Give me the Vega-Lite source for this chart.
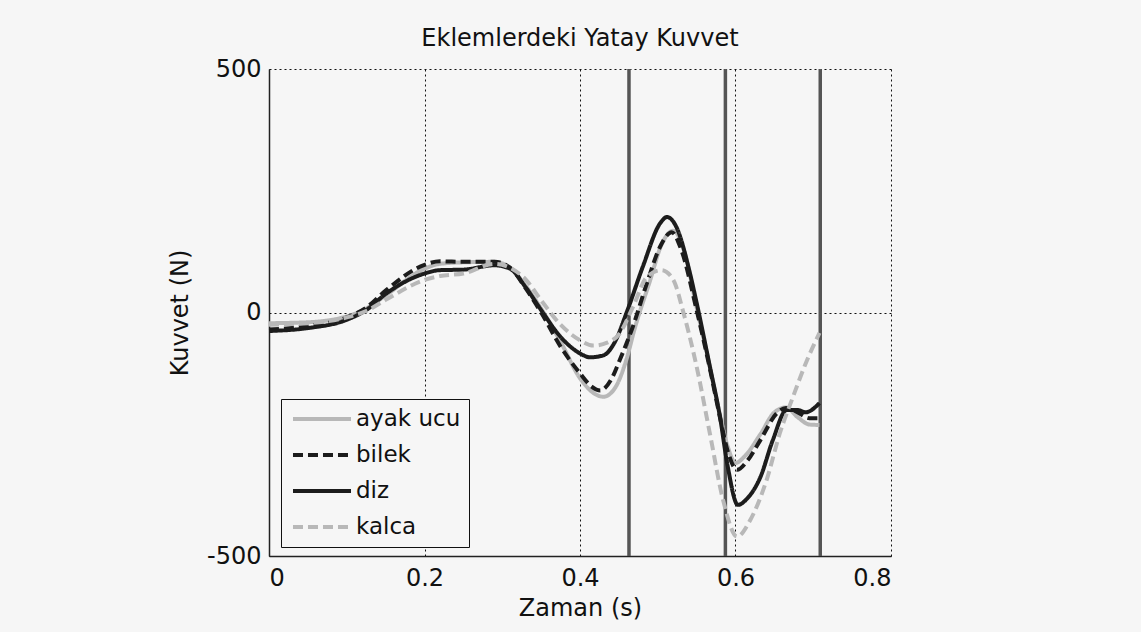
{
  "$schema": "https://vega.github.io/schema/vega-lite/v6.json",
  "width": 622,
  "height": 487,
  "autosize": {"type": "none"},
  "padding": {"left": 269, "top": 69, "right": 250, "bottom": 76},
  "background": "#f6f6f6",
  "config": {
    "font": "DejaVu Sans",
    "view": {"stroke": null, "fill": "#f6f6f6"},
    "axis": {
      "labelFont": "DejaVu Sans", "titleFont": "DejaVu Sans",
      "labelFontSize": 24, "titleFontSize": 24, "titleFontWeight": "normal",
      "labelColor": "#111", "titleColor": "#111",
      "domainColor": "#222", "domainWidth": 1.5,
      "gridColor": "#111", "gridDash": [2, 3], "gridWidth": 1, "gridOpacity": 1,
      "ticks": false
    },
    "legend": {
      "labelFont": "DejaVu Sans", "labelFontSize": 23, "labelColor": "#111"
    }
  },
  "title": {"text": "Eklemlerdeki Yatay Kuvvet", "fontSize": 24, "fontWeight": "normal", "font": "DejaVu Sans", "color": "#111", "offset": 6, "anchor": "middle"},
  "datasets": {
    "curves": [
      {"t": 0, "v": -22, "s": "ayak ucu"}, {"t": 0.05, "v": -20, "s": "ayak ucu"}, {"t": 0.1, "v": -8, "s": "ayak ucu"}, {"t": 0.125, "v": 8, "s": "ayak ucu"}, {"t": 0.15, "v": 35, "s": "ayak ucu"}, {"t": 0.2, "v": 90, "s": "ayak ucu"}, {"t": 0.22, "v": 100, "s": "ayak ucu"}, {"t": 0.25, "v": 103, "s": "ayak ucu"}, {"t": 0.29, "v": 104, "s": "ayak ucu"}, {"t": 0.31, "v": 92, "s": "ayak ucu"}, {"t": 0.33, "v": 55, "s": "ayak ucu"}, {"t": 0.35, "v": 8, "s": "ayak ucu"}, {"t": 0.375, "v": -60, "s": "ayak ucu"}, {"t": 0.4, "v": -135, "s": "ayak ucu"}, {"t": 0.42, "v": -168, "s": "ayak ucu"}, {"t": 0.43, "v": -173, "s": "ayak ucu"}, {"t": 0.445, "v": -155, "s": "ayak ucu"}, {"t": 0.46, "v": -95, "s": "ayak ucu"}, {"t": 0.47, "v": -35, "s": "ayak ucu"}, {"t": 0.49, "v": 65, "s": "ayak ucu"}, {"t": 0.505, "v": 140, "s": "ayak ucu"}, {"t": 0.52, "v": 168, "s": "ayak ucu"}, {"t": 0.535, "v": 120, "s": "ayak ucu"}, {"t": 0.55, "v": 10, "s": "ayak ucu"}, {"t": 0.567, "v": -110, "s": "ayak ucu"}, {"t": 0.58, "v": -210, "s": "ayak ucu"}, {"t": 0.59, "v": -275, "s": "ayak ucu"}, {"t": 0.6, "v": -309, "s": "ayak ucu"}, {"t": 0.612, "v": -295, "s": "ayak ucu"}, {"t": 0.632, "v": -250, "s": "ayak ucu"}, {"t": 0.65, "v": -205, "s": "ayak ucu"}, {"t": 0.665, "v": -195, "s": "ayak ucu"}, {"t": 0.68, "v": -215, "s": "ayak ucu"}, {"t": 0.695, "v": -230, "s": "ayak ucu"}, {"t": 0.708, "v": -231, "s": "ayak ucu"},

      {"t": 0, "v": -35, "s": "bilek"}, {"t": 0.05, "v": -28, "s": "bilek"}, {"t": 0.1, "v": -10, "s": "bilek"}, {"t": 0.125, "v": 10, "s": "bilek"}, {"t": 0.15, "v": 45, "s": "bilek"}, {"t": 0.2, "v": 98, "s": "bilek"}, {"t": 0.22, "v": 105, "s": "bilek"}, {"t": 0.25, "v": 104, "s": "bilek"}, {"t": 0.29, "v": 104, "s": "bilek"}, {"t": 0.31, "v": 92, "s": "bilek"}, {"t": 0.33, "v": 50, "s": "bilek"}, {"t": 0.35, "v": 0, "s": "bilek"}, {"t": 0.375, "v": -70, "s": "bilek"}, {"t": 0.4, "v": -125, "s": "bilek"}, {"t": 0.415, "v": -152, "s": "bilek"}, {"t": 0.426, "v": -160, "s": "bilek"}, {"t": 0.44, "v": -138, "s": "bilek"}, {"t": 0.451, "v": -98, "s": "bilek"}, {"t": 0.468, "v": -29, "s": "bilek"}, {"t": 0.486, "v": 60, "s": "bilek"}, {"t": 0.503, "v": 135, "s": "bilek"}, {"t": 0.518, "v": 165, "s": "bilek"}, {"t": 0.53, "v": 130, "s": "bilek"}, {"t": 0.55, "v": 5, "s": "bilek"}, {"t": 0.567, "v": -115, "s": "bilek"}, {"t": 0.58, "v": -215, "s": "bilek"}, {"t": 0.59, "v": -285, "s": "bilek"}, {"t": 0.602, "v": -323, "s": "bilek"}, {"t": 0.615, "v": -305, "s": "bilek"}, {"t": 0.632, "v": -262, "s": "bilek"}, {"t": 0.653, "v": -207, "s": "bilek"}, {"t": 0.665, "v": -196, "s": "bilek"}, {"t": 0.68, "v": -205, "s": "bilek"}, {"t": 0.695, "v": -217, "s": "bilek"}, {"t": 0.708, "v": -217, "s": "bilek"},

      {"t": 0, "v": -38, "s": "diz"}, {"t": 0.05, "v": -32, "s": "diz"}, {"t": 0.1, "v": -15, "s": "diz"}, {"t": 0.125, "v": 5, "s": "diz"}, {"t": 0.15, "v": 38, "s": "diz"}, {"t": 0.2, "v": 80, "s": "diz"}, {"t": 0.22, "v": 87, "s": "diz"}, {"t": 0.25, "v": 88, "s": "diz"}, {"t": 0.29, "v": 97, "s": "diz"}, {"t": 0.31, "v": 90, "s": "diz"}, {"t": 0.33, "v": 52, "s": "diz"}, {"t": 0.35, "v": 5, "s": "diz"}, {"t": 0.375, "v": -50, "s": "diz"}, {"t": 0.4, "v": -84, "s": "diz"}, {"t": 0.413, "v": -92, "s": "diz"}, {"t": 0.43, "v": -88, "s": "diz"}, {"t": 0.445, "v": -60, "s": "diz"}, {"t": 0.46, "v": 0, "s": "diz"}, {"t": 0.481, "v": 95, "s": "diz"}, {"t": 0.503, "v": 183, "s": "diz"}, {"t": 0.512, "v": 196, "s": "diz"}, {"t": 0.525, "v": 172, "s": "diz"}, {"t": 0.54, "v": 90, "s": "diz"}, {"t": 0.55, "v": 20, "s": "diz"}, {"t": 0.567, "v": -111, "s": "diz"}, {"t": 0.58, "v": -214, "s": "diz"}, {"t": 0.59, "v": -316, "s": "diz"}, {"t": 0.603, "v": -395, "s": "diz"}, {"t": 0.615, "v": -382, "s": "diz"}, {"t": 0.632, "v": -338, "s": "diz"}, {"t": 0.648, "v": -262, "s": "diz"}, {"t": 0.666, "v": -200, "s": "diz"}, {"t": 0.68, "v": -200, "s": "diz"}, {"t": 0.69, "v": -205, "s": "diz"}, {"t": 0.708, "v": -186, "s": "diz"},

      {"t": 0, "v": -25, "s": "kalca"}, {"t": 0.05, "v": -22, "s": "kalca"}, {"t": 0.1, "v": -10, "s": "kalca"}, {"t": 0.125, "v": 3, "s": "kalca"}, {"t": 0.15, "v": 26, "s": "kalca"}, {"t": 0.2, "v": 67, "s": "kalca"}, {"t": 0.22, "v": 75, "s": "kalca"}, {"t": 0.25, "v": 80, "s": "kalca"}, {"t": 0.29, "v": 100, "s": "kalca"}, {"t": 0.31, "v": 92, "s": "kalca"}, {"t": 0.33, "v": 68, "s": "kalca"}, {"t": 0.35, "v": 25, "s": "kalca"}, {"t": 0.375, "v": -25, "s": "kalca"}, {"t": 0.4, "v": -57, "s": "kalca"}, {"t": 0.417, "v": -68, "s": "kalca"}, {"t": 0.435, "v": -62, "s": "kalca"}, {"t": 0.451, "v": -43, "s": "kalca"}, {"t": 0.468, "v": 11, "s": "kalca"}, {"t": 0.486, "v": 73, "s": "kalca"}, {"t": 0.505, "v": 87, "s": "kalca"}, {"t": 0.52, "v": 67, "s": "kalca"}, {"t": 0.533, "v": 0, "s": "kalca"}, {"t": 0.55, "v": -111, "s": "kalca"}, {"t": 0.567, "v": -248, "s": "kalca"}, {"t": 0.584, "v": -385, "s": "kalca"}, {"t": 0.602, "v": -460, "s": "kalca"}, {"t": 0.619, "v": -426, "s": "kalca"}, {"t": 0.64, "v": -344, "s": "kalca"}, {"t": 0.657, "v": -248, "s": "kalca"}, {"t": 0.674, "v": -173, "s": "kalca"}, {"t": 0.692, "v": -98, "s": "kalca"}, {"t": 0.708, "v": -42, "s": "kalca"}
    ],
    "events": [
      {"t": 0.463}, {"t": 0.587}, {"t": 0.709}
    ]
  },
  "layer": [
    {
      "data": {"name": "events"},
      "mark": {"type": "rule", "color": "#555555", "strokeWidth": 3.5},
      "encoding": {
        "x": {"field": "t", "type": "quantitative", "scale": {"domain": [0, 0.8], "nice": false},
          "axis": {"values": [0, 0.2, 0.4, 0.6, 0.8], "labelExpr": "'' + datum.value", "grid": true, "title": "Zaman (s)", "labelPadding": 10, "titlePadding": 6, "orient": "bottom"}}
      }
    },
    {
      "data": {"name": "curves"},
      "mark": {"type": "line", "strokeWidth": 4, "interpolate": "monotone"},
      "encoding": {
        "x": {"field": "t", "type": "quantitative"},
        "y": {"field": "v", "type": "quantitative", "scale": {"domain": [-500, 500], "nice": false},
          "axis": {"values": [-500, 0, 500], "labelExpr": "'' + datum.value", "grid": true, "title": "Kuvvet (N)", "labelPadding": 8, "titlePadding": 14}},
        "color": {"field": "s", "type": "nominal",
          "scale": {"domain": ["ayak ucu", "bilek", "diz", "kalca"], "range": ["#b8b8b8", "#1c1c1c", "#1c1c1c", "#b8b8b8"]},
          "legend": {"title": null, "orient": "none", "legendX": 12, "legendY": 330, "symbolType": "M-3,0H3", "symbolSize": 374, "symbolStrokeWidth": 4, "symbolOffset": 21, "strokeColor": "#111", "fillColor": "#f6f6f6", "padding": 8, "rowPadding": 12, "labelOffset": 22}},
        "strokeDash": {"field": "s", "type": "nominal",
          "scale": {"domain": ["ayak ucu", "bilek", "diz", "kalca"], "range": [[1, 0], [10, 5], [1, 0], [10, 5]]},
          "legend": {"title": null, "orient": "none", "legendX": 12, "legendY": 330, "symbolType": "M-3,0H3", "symbolSize": 374, "symbolStrokeWidth": 4, "symbolOffset": 21, "strokeColor": "#111", "fillColor": "#f6f6f6", "padding": 8, "rowPadding": 12, "labelOffset": 22}}
      }
    }
  ]
}
